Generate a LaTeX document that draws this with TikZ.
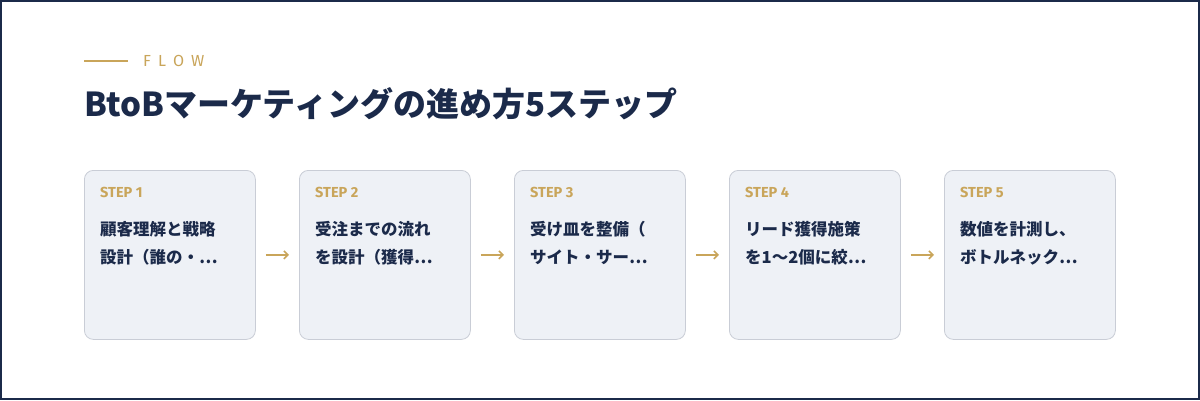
\documentclass[tikz,border=0pt]{standalone}
\usepackage{fontspec}
\setmainfont{Noto Sans CJK JP}
\newfontfamily\stepfont{Fira Sans}
\usetikzlibrary{positioning, arrows.meta}
\definecolor{navy}{HTML}{1B2A4A}
\definecolor{gold}{HTML}{C9A55A}
\definecolor{boxfill}{HTML}{EEF1F6}
\definecolor{boxline}{HTML}{C9CDD6}
\tikzset{
    stepbox/.style={draw=boxline, fill=boxfill, rounded corners=9pt, line width=0.8pt,
        minimum width=171pt, minimum height=169pt, anchor=north west},
    steplabel/.style={text=gold, font=\stepfont\bfseries\fontsize{14.5}{14.5}\selectfont, anchor=base west, inner sep=0pt},
    steptext/.style={text=navy, font=\bfseries\fontsize{16.5}{28}\selectfont, anchor=north west, inner sep=0pt, align=left},
    flowarrow/.style={draw=gold, line width=1.6pt, -{Straight Barb[length=4pt,width=8pt]}}
}
\begin{document}
\begin{tikzpicture}[x=1pt, y=-1pt]
    \useasboundingbox (0,0) rectangle (1200,400);
    \fill[white] (0,0) rectangle (1200,400);
    \draw[navy, line width=2pt] (1,1) rectangle (1199,399);

    % header
    \draw[gold, line width=1.2pt] (84,61) -- (128,61);
    \node[text=gold, font=\stepfont\fontsize{16}{16}\selectfont, anchor=west, inner sep=0pt] (flow) at (143,61) {F\hspace{7pt}L\hspace{7pt}O\hspace{7pt}W};
    \node[text=navy, font=\bfseries\fontsize{33}{33}\selectfont, anchor=base west, inner sep=0pt] (title) at (84,116) {BtoBマーケティングの進め方5ステップ};

    % steps
    \foreach \i/\txt in {1/{顧客理解と戦略\\設計（誰の・…},
                         2/{受注までの流れ\\を設計（獲得…},
                         3/{受け皿を整備（\\サイト・サー…},
                         4/{リード獲得施策\\を1〜2個に絞…},
                         5/{数値を計測し、\\ボトルネック…}} {
        \node[stepbox] (box\i) at ({84+215*(\i-1)},170) {};
        \node[steplabel] (lab\i) at ({100+215*(\i-1)},197) {STEP \i};
        \node[steptext] (txt\i) at ({100+215*(\i-1)},221) {\txt};
    }

    % arrows
    \foreach \i [evaluate=\i as \j using int(\i+1)] in {1,...,4}
        \draw[flowarrow] ([xshift=10pt]box\i.east) -- ([xshift=-10pt]box\j.west);
\end{tikzpicture}
\end{document}
